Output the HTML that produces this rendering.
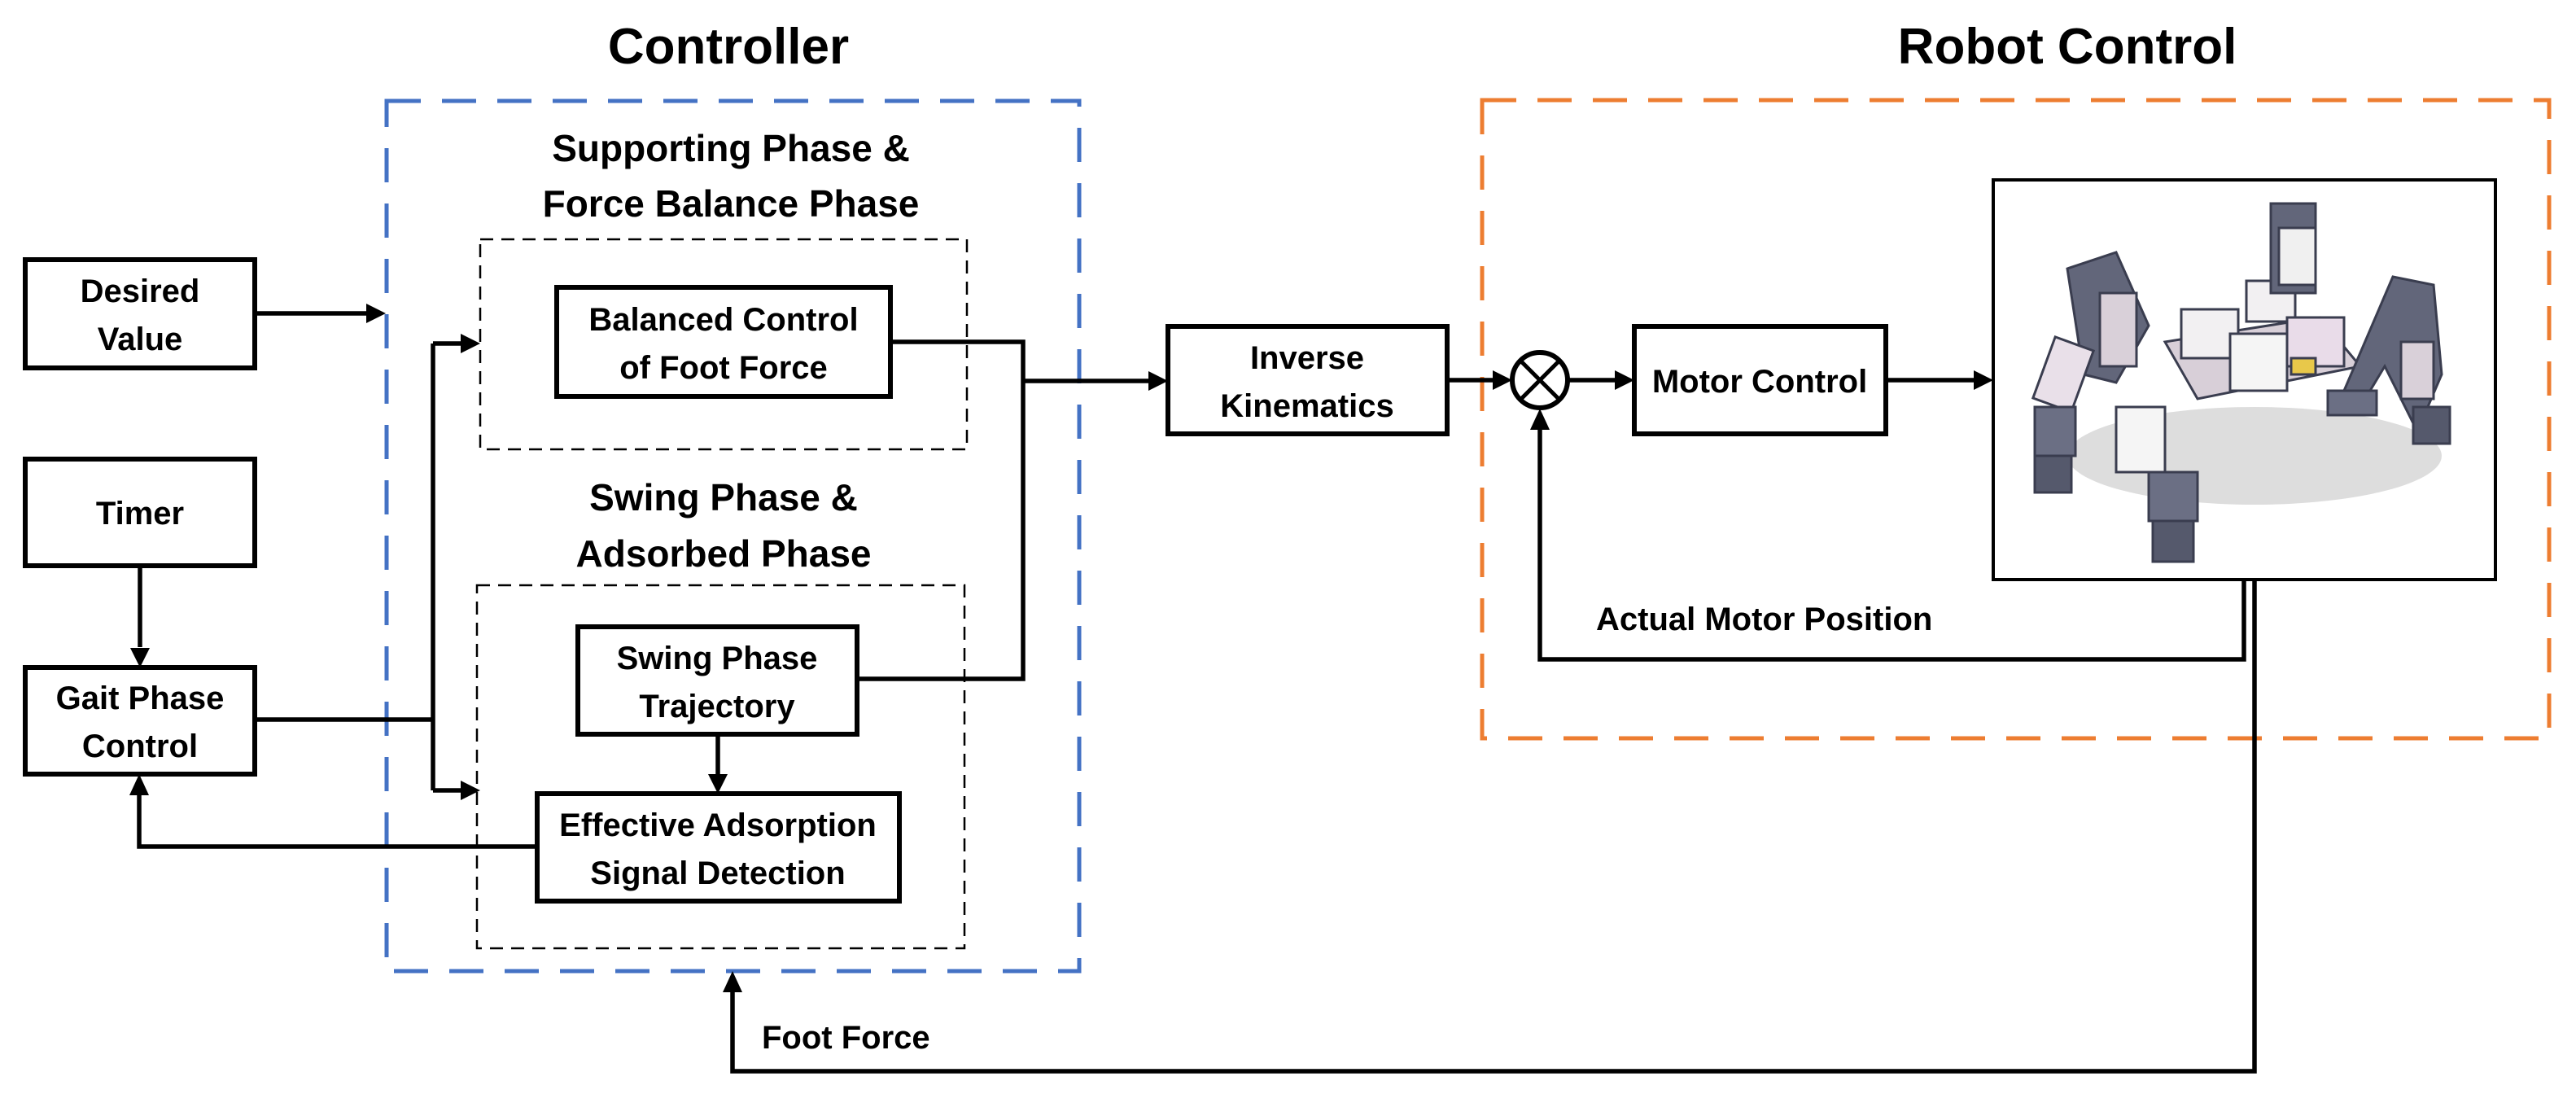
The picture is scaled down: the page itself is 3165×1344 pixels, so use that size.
<!DOCTYPE html>
<html><head><meta charset="utf-8"><style>
html,body{margin:0;padding:0;background:#fff;}
svg{display:block;}
text{font-family:"Liberation Sans",sans-serif;font-weight:bold;fill:#000;}
</style></head><body>
<svg width="3165" height="1344" viewBox="0 0 3165 1344" xmlns="http://www.w3.org/2000/svg">
<!-- Titles -->
<text x="895" y="78" font-size="62" text-anchor="middle">Controller</text>
<text x="2540" y="78" font-size="62" text-anchor="middle">Robot Control</text>

<!-- Blue dashed -->
<rect x="475" y="124" width="851" height="1069" fill="none" stroke="#4472C4" stroke-width="5" stroke-dasharray="42,26"/>
<!-- Orange dashed -->
<rect x="1821" y="123" width="1311" height="784" fill="none" stroke="#ED7D31" stroke-width="5" stroke-dasharray="42,26"/>

<!-- Section titles -->
<text x="898" y="198" font-size="46" text-anchor="middle">Supporting Phase &amp;</text>
<text x="898" y="266" font-size="46" text-anchor="middle">Force Balance Phase</text>
<text x="889" y="627" font-size="46" text-anchor="middle">Swing Phase &amp;</text>
<text x="889" y="696" font-size="46" text-anchor="middle">Adsorbed Phase</text>

<!-- Black dashed boxes -->
<rect x="590" y="294" width="598" height="258" fill="none" stroke="#000" stroke-width="2.5" stroke-dasharray="16,10"/>
<rect x="586" y="719" width="599" height="446" fill="none" stroke="#000" stroke-width="2.5" stroke-dasharray="16,10"/>

<g fill="#fff" stroke="#000" stroke-width="6">
<rect x="31" y="319" width="282" height="133"/>
<rect x="31" y="564" width="282" height="131"/>
<rect x="31" y="820" width="282" height="131"/>
<rect x="684" y="353" width="410" height="134"/>
<rect x="710" y="770" width="343" height="132"/>
<rect x="660" y="975" width="445" height="132"/>
<rect x="1435" y="401" width="343" height="132"/>
<rect x="2008" y="401" width="309" height="132"/>
</g>
<rect x="2449" y="221" width="617" height="491" fill="#fff" stroke="#000" stroke-width="4"/>

<g font-size="40" text-anchor="middle">
<text x="172" y="371">Desired</text><text x="172" y="430">Value</text>
<text x="172" y="644">Timer</text>
<text x="172" y="871">Gait Phase</text><text x="172" y="930">Control</text>
<text x="889" y="406">Balanced Control</text><text x="889" y="465">of Foot Force</text>
<text x="881" y="822">Swing Phase</text><text x="881" y="881">Trajectory</text>
<text x="882" y="1027">Effective Adsorption</text><text x="882" y="1086">Signal Detection</text>
<text x="1606" y="453">Inverse</text><text x="1606" y="512">Kinematics</text>
<text x="2162" y="482">Motor Control</text>
</g>
<text x="1961" y="774" font-size="40">Actual Motor Position</text>
<text x="936" y="1288" font-size="40">Foot Force</text>

<!-- Lines -->
<g fill="none" stroke="#000" stroke-width="5.5">
<path d="M313 385 H452"/>
<path d="M172 695 V795"/>
<path d="M313 884 H532 M532 422 V971 M532 422 H566 M532 971 H566"/>
<path d="M660 1040 H171 V976"/>
<path d="M882 902 V952"/>
<path d="M1094 420 H1257 V834 H1053 M1257 468 H1412"/>
<path d="M1778 467 H1834"/>
<path d="M1927 467 H1985"/>
<path d="M2317 467 H2426"/>
<path d="M2757 712 V810 H1892 V527"/>
<path d="M2770 712 V1316 H900 V1218"/>
</g>
<circle cx="1892" cy="467" r="34" fill="#fff" stroke="#000" stroke-width="6"/>
<path d="M1868 443 L1916 491 M1916 443 L1868 491" stroke="#000" stroke-width="5"/>

<!-- Arrowheads -->
<g fill="#000">
<polygon points="474,385 450,373 450,397"/>
<polygon points="172,820 160,796 184,796"/>
<polygon points="590,422 566,410 566,434"/>
<polygon points="590,971 566,959 566,983"/>
<polygon points="171,951 159,977 183,977"/>
<polygon points="882,975 870,951 894,951"/>
<polygon points="1435,468 1411,456 1411,480"/>
<polygon points="1858,467 1834,455 1834,479"/>
<polygon points="2008,467 1984,455 1984,479"/>
<polygon points="2449,467 2425,455 2425,479"/>
<polygon points="1892,502 1880,528 1904,528"/>
<polygon points="900,1193 888,1219 912,1219"/>
</g>

<!-- Robot illustration (simplified) -->
<g stroke="#3a3d4f" stroke-width="3">
<ellipse cx="2770" cy="560" rx="230" ry="60" fill="#bbb" stroke="none" opacity="0.5"/>
<polygon points="2660,420 2850,390 2900,450 2700,490" fill="#d8cfd8"/>
<rect x="2680" y="380" width="70" height="60" fill="#f2f0f2"/>
<rect x="2760" y="345" width="60" height="50" fill="#f2f0f2"/>
<rect x="2810" y="390" width="70" height="60" fill="#e9dce9"/>
<rect x="2740" y="410" width="70" height="70" fill="#f5f5f5"/>
<rect x="2815" y="440" width="30" height="20" fill="#e8c84a"/>
<rect x="2790" y="250" width="55" height="110" fill="#62667a"/>
<rect x="2800" y="280" width="45" height="70" fill="#f0f0f0"/>
<polygon points="2540,330 2600,310 2640,400 2600,470 2560,460" fill="#62667a"/>
<rect x="2580" y="360" width="45" height="90" fill="#d9d0d9"/>
<rect x="2510" y="420" width="50" height="80" fill="#e9e0e9" transform="rotate(20 2535 460)"/>
<rect x="2500" y="500" width="50" height="60" fill="#6b6f84"/>
<rect x="2500" y="560" width="45" height="45" fill="#55596c"/>
<rect x="2600" y="500" width="60" height="80" fill="#f5f5f5"/>
<rect x="2640" y="580" width="60" height="60" fill="#6b6f84"/>
<rect x="2645" y="640" width="50" height="50" fill="#55596c"/>
<polygon points="2880,480 2940,340 2990,350 3000,460 2970,530 2930,450 2900,500" fill="#62667a"/>
<rect x="2950" y="420" width="40" height="70" fill="#d9d0d9"/>
<rect x="2965" y="500" width="45" height="45" fill="#55596c"/>
<rect x="2860" y="480" width="60" height="30" fill="#6b6f84"/>
</g>
</svg>
</body></html>
